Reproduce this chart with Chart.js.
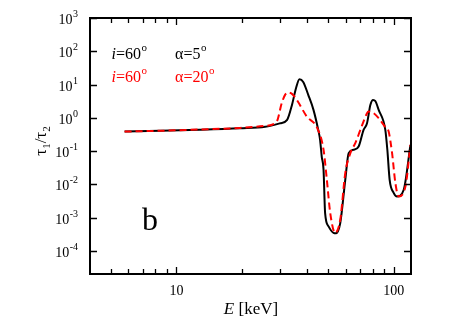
<!DOCTYPE html>
<html>
<head>
<meta charset="utf-8">
<script src="https://cdn.jsdelivr.net/npm/chart.js@4.4.0/dist/chart.umd.min.js"></script>
<style>
  html, body { margin: 0; padding: 0; background: #fff; }
  #wrap { width: 463px; height: 324px; }
</style>
</head>
<body>
<div id="wrap"><canvas id="chart" width="463" height="324"></canvas></div>
<script>
// energies (keV) and tau1/tau2
const blackE = [5.77, 8.4, 12.8, 19.6, 25.6, 30.0, 32.3, 34.0, 35.5, 36.8, 38.3, 40.4, 42.7, 44.9, 45.8, 46.6, 47.5, 48.3, 50.1, 52.8, 54.2, 56.7, 59.8, 62.0, 65.3, 68.9, 72.6, 75.3, 78.0, 80.3, 82.2, 85.2, 91.4, 93.4, 95.7, 100, 103.5, 111.1, 119.3];
const blackTau = [0.388, 0.407, 0.437, 0.484, 0.537, 0.69, 0.87, 2.45, 7.9, 14.5, 12, 4.9, 1.74, 0.437, 0.22, 0.069, 0.0275, 1.38e-3, 5.5e-4, 3.5e-4, 3.4e-4, 6.9e-4, 0.0138, 0.087, 0.11, 0.138, 0.437, 0.69, 2.45, 3.46, 3.2, 1.74, 0.437, 0.11, 0.0138, 5.5e-3, 4.35e-3, 6.9e-3, 0.155];

const redE = [5.77, 8.4, 12.8, 19.6, 25.6, 28.9, 30.5, 31.6, 32.7, 34.0, 35.8, 39.8, 44.4, 47.5, 49.2, 51.0, 53.7, 56.7, 59.8, 63.1, 66.5, 70.2, 75.3, 76.4, 80.5, 85.2, 90.5, 94.7, 98.2, 101.7, 105.3, 113.1, 119.3];
const redTau = [0.388, 0.41, 0.446, 0.5, 0.575, 0.774, 2.76, 4.9, 5.75, 5.25, 3.46, 1.09, 0.5, 0.11, 0.0138, 1.38e-3, 3.5e-4, 8.7e-4, 0.022, 0.087, 0.174, 0.437, 1.38, 1.55, 1.41, 0.98, 0.575, 0.388, 0.087, 0.011, 4.35e-3, 8.7e-3, 0.155];

const yTickExps = [-4, -3, -2, -1, 0, 1, 2, 3];
const xMajorTicks = [10, 100];
const xMinorTicks = [5, 6, 7, 8, 9, 20, 30, 40, 50, 60, 70, 80, 90];
const xTickLabels = ['10', '100'];

const SERIF = '"Liberation Serif", "Times New Roman", serif';

const toPoints = (xs, ys) => xs.map((x, i) => ({ x, y: ys[i] }));

// draws frame, ticks, labels and the in-plot legend
const framePlugin = {
  id: 'frame',
  afterDraw(chart) {
    const ctx = chart.ctx;
    const area = chart.chartArea;
    const xs = chart.scales.x;
    const ys = chart.scales.y;
    ctx.save();
    ctx.strokeStyle = '#000';
    ctx.fillStyle = '#000';

    // ticks
    ctx.lineWidth = 1.3;
    ctx.beginPath();
    yTickExps.forEach(e => {
      const y = Math.round(ys.getPixelForValue(Math.pow(10, e))) + 0.5;
      ctx.moveTo(area.left, y); ctx.lineTo(area.left + 7, y);
      ctx.moveTo(area.right, y); ctx.lineTo(area.right - 7, y);
    });
    xMajorTicks.concat(xMinorTicks).forEach(v => {
      const len = xMajorTicks.includes(v) ? 7 : 5;
      const x = Math.round(xs.getPixelForValue(v)) + 0.5;
      ctx.moveTo(x, area.bottom); ctx.lineTo(x, area.bottom - len);
      ctx.moveTo(x, area.top); ctx.lineTo(x, area.top + len);
    });
    ctx.stroke();

    // box
    ctx.lineWidth = 2;
    ctx.strokeRect(area.left, area.top, area.right - area.left, area.bottom - area.top);

    // y tick labels 10^n
    yTickExps.forEach(e => {
      const y = ys.getPixelForValue(Math.pow(10, e));
      const exp = String(e);
      ctx.font = '10px ' + SERIF;
      const ew = ctx.measureText(exp).width;
      ctx.textAlign = 'left';
      ctx.textBaseline = 'alphabetic';
      const right = 78;
      ctx.fillText(exp, right - ew, y - 1);
      ctx.font = '14px ' + SERIF;
      ctx.textAlign = 'right';
      ctx.fillText('10', right - ew - 0.5, y + 6);
    });

    // x tick labels
    ctx.font = '14px ' + SERIF;
    ctx.textAlign = 'center';
    xMajorTicks.forEach((v, i) => {
      ctx.fillText(xTickLabels[i], xs.getPixelForValue(v), 295);
    });

    // x title: E [keV]
    ctx.font = 'italic 17px ' + SERIF;
    const wE = ctx.measureText('E').width;
    ctx.font = '17px ' + SERIF;
    const wRest = ctx.measureText(' [keV]').width;
    let x0 = 251 - (wE + wRest) / 2;
    ctx.textAlign = 'left';
    ctx.font = 'italic 17px ' + SERIF;
    ctx.fillText('E', x0, 314);
    ctx.font = '17px ' + SERIF;
    ctx.fillText(' [keV]', x0 + wE, 314);

    // y title: tau1/tau2, rotated
    ctx.save();
    ctx.translate(46, 141);
    ctx.rotate(-Math.PI / 2);
    const parts = [['τ', 17, 0], ['1', 11, 4], ['/', 17, 0], ['τ', 17, 0], ['2', 11, 4]];
    let total = 0;
    parts.forEach(p => { ctx.font = p[1] + 'px ' + SERIF; total += ctx.measureText(p[0]).width; });
    let px = -total / 2;
    parts.forEach(p => {
      ctx.font = p[1] + 'px ' + SERIF;
      ctx.fillText(p[0], px, p[2]);
      px += ctx.measureText(p[0]).width;
    });
    ctx.restore();

    // legend text inside the plot
    const legendRow = (color, y, alpha) => {
      ctx.fillStyle = color;
      let x = 111.5;
      ctx.font = 'italic 16px ' + SERIF;
      ctx.fillText('i', x, y); x += ctx.measureText('i').width;
      ctx.font = '16px ' + SERIF;
      ctx.fillText('=60', x, y); x += ctx.measureText('=60').width;
      ctx.font = '11px ' + SERIF;
      ctx.fillText('o', x + 0.5, y - 8);
      x = 175;
      ctx.font = '16px ' + SERIF;
      const t = 'α=' + alpha;
      ctx.fillText(t, x, y); x += ctx.measureText(t).width;
      ctx.font = '11px ' + SERIF;
      ctx.fillText('o', x + 0.5, y - 8);
    };
    legendRow('#000', 59, '5');
    legendRow('#ff0000', 82, '20');

    // panel letter
    ctx.fillStyle = '#000';
    ctx.font = '32px ' + SERIF;
    ctx.fillText('b', 142, 230);

    ctx.restore();
  }
};

const chart = new Chart(document.getElementById('chart').getContext('2d'), {
  type: 'line',
  data: {
    datasets: [
      {
        label: 'i=60, alpha=20',
        data: toPoints(redE, redTau),
        borderColor: '#ff0000',
        borderWidth: 2,
        borderDash: [7, 4],
        pointRadius: 0,
        fill: false,
        cubicInterpolationMode: 'monotone'
      },
      {
        label: 'i=60, alpha=5',
        data: toPoints(blackE, blackTau),
        borderColor: '#000',
        borderWidth: 2,
        pointRadius: 0,
        fill: false,
        cubicInterpolationMode: 'monotone'
      }
    ]
  },
  options: {
    responsive: false,
    animation: false,
    events: [],
    layout: { padding: { left: 90, top: 18, right: 52, bottom: 50 } },
    plugins: { legend: { display: false }, tooltip: { enabled: false } },
    scales: {
      x: {
        type: 'logarithmic',
        min: 4,
        max: 120,
        grid: { display: false, drawTicks: false },
        border: { display: false },
        ticks: { display: false },
        afterFit: s => { s.height = 0; }
      },
      y: {
        type: 'logarithmic',
        min: 2.04e-5,
        max: 1000,
        grid: { display: false, drawTicks: false },
        border: { display: false },
        ticks: { display: false },
        afterFit: s => { s.width = 0; }
      }
    }
  },
  plugins: [framePlugin]
});
</script>
</body>
</html>
